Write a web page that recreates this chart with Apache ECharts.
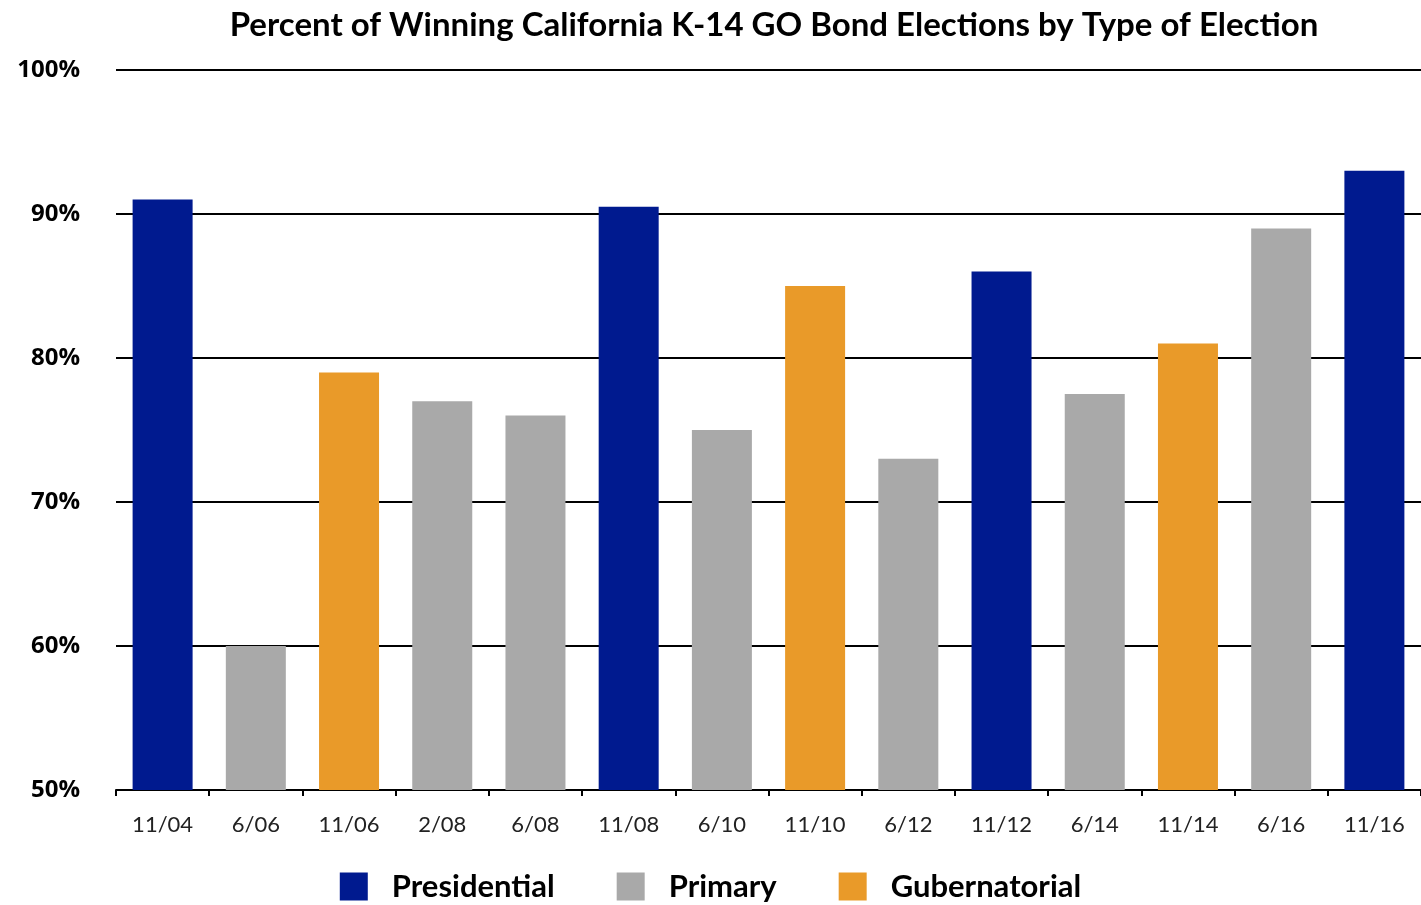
<!DOCTYPE html>
<html>

<head>
    <meta charset="UTF-8">
    <title>K-14 GO Bond Elections</title>
    <script src="https://cdn.jsdelivr.net/npm/echarts@6/dist/echarts.min.js"></script>
    <style>
        body { margin: 0; background: #fff; }
    </style>
</head>

<body>
    <div id="bar" style="width: 1421px; height: 905px;"></div>
    <script>
        var elections = ['11/04', '6/06', '11/06', '2/08', '6/08', '11/08', '6/10', '11/10', '6/12', '11/12', '6/14', '11/14', '6/16', '11/16'];
        var presidential = [91, null, null, null, null, 90.5, null, null, null, 86, null, null, null, 93];
        var primary = [null, 60, null, 77, 76, null, 75, null, 73, null, 77.5, null, 89, null];
        var gubernatorial = [null, null, 79, null, null, null, null, 85, null, null, null, 81, null, null];

        var font = 'Lato';
        var chart = echarts.init(document.getElementById('bar'), null, { renderer: 'canvas' });

        function barSeries(name, data, color) {
            return {
                name: name,
                type: 'bar',
                stack: 'all',
                barWidth: 60,
                data: data,
                itemStyle: { color: color },
                z: 3
            };
        }

        chart.setOption({
            backgroundColor: '#fff',
            animation: false,
            title: {
                text: 'Percent of Winning California K-14 GO Bond Elections by Type of Election',
                left: 769,
                textAlign: 'center',
                top: 4,
                textStyle: { fontFamily: font, fontWeight: 'bold', fontSize: 33, color: '#000' }
            },
            legend: {
                top: 866,
                left: 'center',
                itemWidth: 28,
                itemHeight: 28,
                itemGap: 62,
                icon: 'rect',
                textStyle: { fontFamily: font, fontWeight: 'bold', fontSize: 31, color: '#000', padding: [0, 0, 0, 19] },
                data: ['Presidential', 'Primary', 'Gubernatorial']
            },
            grid: { left: 116, right: 0, top: 70, bottom: 115 },
            xAxis: {
                type: 'category',
                data: elections,
                axisLine: { lineStyle: { color: '#000', width: 2 } },
                axisTick: { show: true, length: 6, lineStyle: { color: '#000', width: 2 } },
                axisLabel: { fontFamily: font, fontSize: 22, color: '#222', margin: 24 }
            },
            yAxis: {
                type: 'value',
                min: 50,
                max: 100,
                interval: 10,
                axisLine: { show: false },
                axisTick: { show: false },
                splitLine: { lineStyle: { color: '#000', width: 2 } },
                axisLabel: {
                    formatter: '{value}%', fontFamily: 'Open Sans', fontWeight: 'bold', fontSize: 24,
                    color: '#000', margin: 36
                }
            },
            series: [
                barSeries('Presidential', presidential, '#001a8f'),
                barSeries('Primary', primary, '#a9a9a9'),
                barSeries('Gubernatorial', gubernatorial, '#e99a29')
            ]
        });
    </script>

</body>

</html>
